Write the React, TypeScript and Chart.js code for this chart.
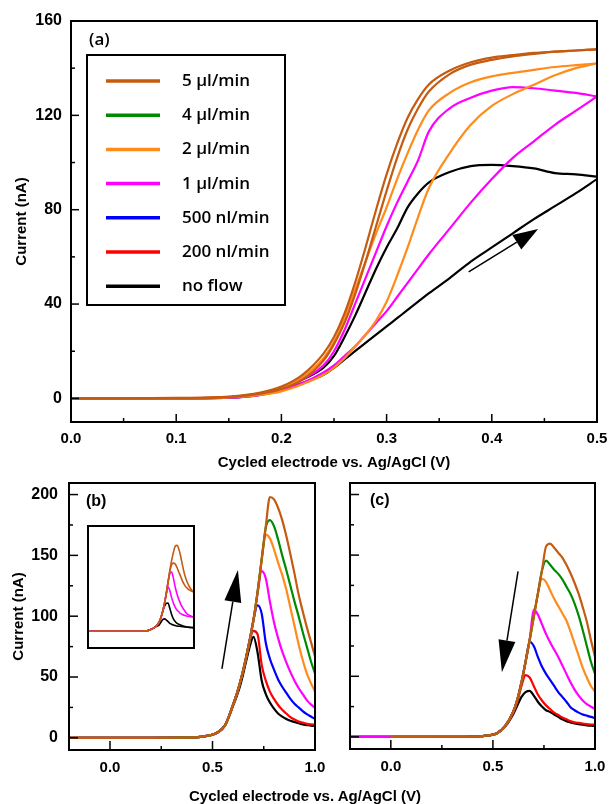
import React, { useEffect, useRef } from "react";
import { Chart, registerables } from "chart.js";
Chart.register(...registerables);

const FONT = "'Liberation Sans', Arial, Helvetica, sans-serif";
const LEG_FONT = "'Open Sans', 'Liberation Sans', sans-serif";

// ---------- series (legend order) ----------
const seriesLabels = ["5 μl/min", "4 μl/min", "2 μl/min", "1 μl/min", "500 nl/min", "200 nl/min", "no flow"];
const seriesColors = ["#c55a11", "#008a00", "#ff8c1a", "#ff00ff", "#0000ff", "#ff0000", "#000000"];

// ---------- panel (a): cyclic voltammograms ----------
const potA = [0, 0.05, 0.1, 0.15, 0.18, 0.2, 0.22, 0.24, 0.25, 0.26, 0.27, 0.28, 0.29, 0.3, 0.31, 0.32, 0.33, 0.34, 0.36, 0.38, 0.4, 0.42, 0.44, 0.46, 0.48, 0.5];
const fwd5 = [0, 0, 0, 0.5, 2, 4, 8, 16, 23, 32, 44, 58, 73, 88, 102, 114, 123, 130, 137.5, 141.5, 143.5, 145, 146, 147, 147.5, 148];
const rev5 = [0, 0, 0.2, 0.8, 2.5, 5, 10, 19, 26, 36, 49, 64, 80, 95, 108, 119, 127, 133, 139, 142.5, 144.5, 145.5, 146.5, 147, 147.5, 148];
const fwd2 = [0, 0, 0, 0.4, 1.5, 3, 6, 10, 13, 17, 22, 27, 33, 41, 52, 64, 77, 89, 104, 116, 124, 129, 133, 137, 140, 142];
const rev2 = [0, 0, 0.1, 0.6, 2, 4, 9, 17, 24, 34, 46, 58, 70, 81, 93, 104, 114, 122, 129.5, 134, 136.5, 138, 139.3, 140.5, 141.3, 142];
const fwd1 = [0, 0, 0, 0.3, 1.5, 3.5, 6.5, 11, 14, 18, 22, 27, 32, 37, 43, 49, 55, 61, 72, 83, 93, 102, 109, 116, 122, 128];
const rev1 = [0, 0, 0.1, 0.5, 2, 4, 8, 14, 20, 29, 40, 51, 62, 73, 83, 92, 101, 113, 123, 127.5, 130.5, 132, 131.5, 130.5, 129.5, 128];
const fwd0 = [0, 0, 0, 0.3, 1.5, 3.5, 6.5, 10, 13, 16.5, 20, 23.5, 27, 30.5, 34, 37.5, 41, 44.5, 51, 58, 64, 70, 76, 81.5, 87, 93];
const rev0 = [0, 0, 0.1, 0.5, 2, 4, 8, 13, 18, 26, 35, 45, 55, 64, 72, 81, 87, 91.5, 96, 98.5, 99, 98.5, 97.5, 95.5, 95, 94];

const xTicksA = [0, 0.1, 0.2, 0.3, 0.4, 0.5];
const xMinorA = [0.05, 0.15, 0.25, 0.35, 0.45];
const yTicksA = [0, 40, 80, 120, 160];
const yMinorA = [20, 60, 100, 140];
const arrowA = [[0.378, 53.6], [0.444, 71.8]];

// ---------- panels (b) and (c): linear sweeps ----------
const potBC = [-0.2, 0, 0.2, 0.4, 0.44, 0.48, 0.52, 0.56, 0.6, 0.62, 0.64, 0.66, 0.68, 0.7, 0.72, 0.74, 0.76, 0.78, 0.8, 0.82, 0.84, 0.86, 0.88, 0.9, 0.92, 0.94, 0.96, 0.98, 1.0];

const b5 = [0, 0, 0, 0.3, 0.8, 1.8, 4, 10, 27, 37, 49, 63, 79, 97, 120, 147, 174, 198, 196, 189, 179, 166, 151, 135, 118, 104, 91, 79, 67];
const b4 = [0, 0, 0, 0.3, 0.8, 1.8, 4, 10, 27, 37, 49, 63, 79, 97, 120, 147, 173, 179, 174, 163, 150, 138, 125, 112, 100, 87, 75, 63, 53];
const b2 = [0, 0, 0, 0.3, 0.8, 1.8, 4, 10, 27, 37, 49, 63, 79, 97, 120, 146, 167, 164, 155, 144, 134, 122, 107, 92, 77, 64, 53, 45, 38];
const b1 = [0, 0, 0, 0.3, 0.8, 1.8, 4, 10, 27, 37, 49, 63, 79, 97, 119, 137, 131, 112, 95, 82, 71, 62, 54, 47, 41, 36, 31, 27.5, 24.6];
const b05 = [0, 0, 0, 0.3, 0.8, 1.8, 4, 10, 27, 37, 49, 63, 79, 97, 109, 102, 78, 65, 56, 48, 42, 37, 32, 28, 25, 22, 19.5, 17.5, 15.6];
const b02 = [0, 0, 0, 0.3, 0.8, 1.8, 4, 10, 27, 37, 49, 63, 79, 88, 85, 60, 47, 38, 32, 27, 23, 20, 17, 15, 13.5, 12.5, 11.5, 11, 10.7];
const b0 = [0, 0, 0, 0.3, 0.8, 1.8, 4, 10, 26, 35, 46, 60, 74, 83, 70, 47, 36, 29, 24, 20, 17.5, 15.5, 14, 13, 12, 11, 10.5, 10, 9.8];

const c5 = [null, 0, 0, 0.3, 0.6, 1.2, 3, 9, 21, 31, 45, 62, 80, 99, 118, 137, 157, 159.5, 156, 152, 148, 142, 135, 127, 118, 107, 95, 80, 66];
const c4 = [null, 0, 0, 0.3, 0.6, 1.2, 3, 9, 21, 31, 45, 62, 80, 99, 118, 137, 145.5, 142, 138, 134.5, 130, 124, 118, 110, 100, 88, 75, 62, 52];
const c2 = [null, 0, 0, 0.3, 0.6, 1.2, 3, 9, 21, 31, 45, 62, 80, 99, 118, 130.5, 128, 121, 114, 108, 102, 96, 87, 77, 67, 57, 49, 42, 37.5];
const c1 = [0, 0, 0, 0.3, 0.6, 1.2, 3, 9, 21, 31, 45, 62, 80, 105, 101, 93, 85, 78, 72, 66, 59, 52, 45, 39, 34, 30, 27, 25, 23];
const c05 = [0, 0, 0, 0.3, 0.6, 1.2, 3, 9, 21, 31, 45, 62, 78.5, 75, 66, 58, 52, 47, 42, 37, 33, 29, 24.5, 22, 20, 18.5, 17.5, 16.5, 15.4];
const c02 = [0, 0, 0, 0.3, 0.6, 1.2, 3, 9, 20, 29, 42, 51, 49, 42, 35, 30, 26, 23, 20, 18, 16, 14.5, 13, 12, 11.5, 11, 10.5, 10.2, 10];
const c0 = [0, 0, 0, 0.3, 0.6, 1.2, 3, 8.5, 19, 26, 33, 37, 38, 34, 29, 25, 22, 20.5, 18.5, 16.5, 14.5, 13, 12, 11, 10.5, 10, 9.5, 9.2, 9];

// inset of (b)
const inBrownA = [0, 0, 0, 0, 0.3, 1, 2.5, 5, 10, 15, 22, 31, 42, 55, 68, 80, 89, 96, 97, 93, 85, 75, 66, 59, 54, 50, 47, 45, 44];
const inBrownB = [0, 0, 0, 0, 0.3, 1, 2.5, 5, 10, 15, 22, 31, 42, 55, 68, 75, 77, 76, 72, 67, 62, 57, 53, 50, 48, 46.5, 45.5, 44.5, 44];
const inMagA = [0, 0, 0, 0, 0.3, 1, 2.5, 5, 10, 15, 22, 31, 42, 55, 65, 67, 60, 50, 42, 36, 31, 27, 24, 21, 19, 18, 17, 16.5, 16];
const inMagB = [0, 0, 0, 0, 0.3, 1, 2.5, 5, 10, 15, 22, 31, 42, 50, 46, 38, 32, 27, 24, 22, 20, 19, 18, 17.5, 17, 16.7, 16.4, 16.2, 16];
const inBlackA = [0, 0, 0, 0, 0.3, 1, 2.5, 5, 10, 15, 22, 28, 31.5, 32, 26, 19, 14, 11, 9, 8, 7, 6.3, 5.7, 5.2, 4.8, 4.4, 4.2, 4.1, 4];
const inBlackB = [0, 0, 0, 0, 0.3, 1, 2.5, 5, 7, 10, 13, 14, 13, 11, 9, 8, 7, 6.5, 6, 5.7, 5.5, 5.2, 5, 4.8, 4.6, 4.4, 4.2, 4.1, 4];

const xTicksBC = [0, 0.5, 1.0];
const xMinorBC = [0.25, 0.75];
const yTicksBC = [0, 50, 100, 150, 200];
const yMinorBC = [25, 75, 125, 175];
const arrowB = [[0.546, 56.6], [0.624, 138]];
const arrowC = [[0.623, 136.5], [0.544, 53.3]];

// ---------- helpers ----------
const pts = (xs: number[], ys: (number | null)[]) => xs.map((x, i) => ({ x, y: ys[i] }));

const fixSize = (w?: number, h?: number) => (s: any) => {
  if (w !== undefined) s.width = w;
  if (h !== undefined) s.height = h;
  s.paddingTop = 0; s.paddingBottom = 0; s.paddingLeft = 0; s.paddingRight = 0;
};

const xTickFont = { family: FONT, size: 15, weight: "bold" as const };
const yTickFont = { family: FONT, size: 16, weight: "bold" as const };
const titleFont = { family: FONT, size: 15, weight: "bold" as const };

const decor = {
  id: "decor",
  afterDatasetsDraw(chart: any, _a: any, o: any) {
    const { ctx, chartArea: a } = chart;
    const xs = chart.scales.x, ys = chart.scales.y;
    ctx.save();
    ctx.strokeStyle = "#000";
    ctx.fillStyle = "#000";
    const seg = (x1: number, y1: number, x2: number, y2: number) => {
      ctx.beginPath(); ctx.moveTo(x1, y1); ctx.lineTo(x2, y2); ctx.stroke();
    };
    if (o.frame) {
      ctx.lineWidth = 2;
      ctx.strokeRect(1, 1, chart.width - 2, chart.height - 2);
    }
    if (o.box) {
      ctx.lineWidth = 2;
      ctx.strokeRect(a.left, a.top, a.right - a.left, a.bottom - a.top);
    }
    if (o.ticks) {
      const t = o.ticks;
      ctx.lineWidth = 1.5;
      t.xMajor.forEach((v: number) => { const p = xs.getPixelForValue(v); seg(p, a.bottom, p, a.bottom - t.major); });
      t.xMinor.forEach((v: number) => { const p = xs.getPixelForValue(v); seg(p, a.bottom, p, a.bottom - t.minor); });
      t.yMajor.forEach((v: number) => { const p = ys.getPixelForValue(v); seg(a.left, p, a.left + t.major, p); });
      t.yMinor.forEach((v: number) => { const p = ys.getPixelForValue(v); seg(a.left, p, a.left + t.minor, p); });
    }
    if (o.arrow) {
      const [[fx, fy], [tx, ty]] = o.arrow.pts;
      const x1 = xs.getPixelForValue(fx), y1 = ys.getPixelForValue(fy);
      const x2 = xs.getPixelForValue(tx), y2 = ys.getPixelForValue(ty);
      const ang = Math.atan2(y2 - y1, x2 - x1);
      const L = o.arrow.len, W = o.arrow.wid;
      const bx = x2 - L * Math.cos(ang), by = y2 - L * Math.sin(ang);
      ctx.lineWidth = 1.5;
      seg(x1, y1, bx, by);
      ctx.beginPath();
      ctx.moveTo(x2, y2);
      ctx.lineTo(bx + (W / 2) * Math.sin(ang), by - (W / 2) * Math.cos(ang));
      ctx.lineTo(bx - (W / 2) * Math.sin(ang), by + (W / 2) * Math.cos(ang));
      ctx.closePath();
      ctx.fill();
    }
    if (o.letter) {
      ctx.font = o.letter.font;
      ctx.textBaseline = "middle";
      ctx.textAlign = "left";
      ctx.fillText(o.letter.text, a.left + o.letter.dx, a.top + o.letter.dy);
    }
    if (o.legend) {
      const L = o.legend;
      const bx = a.left + L.dx, by = a.top + L.dy;
      ctx.lineWidth = 2;
      ctx.strokeRect(bx, by, L.w, L.h);
      ctx.font = L.font;
      ctx.textBaseline = "alphabetic";
      ctx.textAlign = "left";
      seriesLabels.forEach((lab, i) => {
        const y = by + L.first + i * L.step;
        ctx.strokeStyle = seriesColors[i];
        ctx.lineWidth = 3.5;
        seg(bx + 19, y, bx + 73, y);
        ctx.fillStyle = "#000";
        ctx.fillText(lab, bx + 95, y + 5);
      });
    }
    ctx.restore();
  },
};

function ChartBox({ left, top, width, height, make }: any) {
  const ref = useRef<HTMLCanvasElement>(null);
  useEffect(() => {
    const chart = new Chart(ref.current as HTMLCanvasElement, make());
    return () => chart.destroy();
  }, []);
  return (
    <canvas
      ref={ref}
      width={width}
      height={height}
      style={{ position: "absolute", left, top, width, height, display: "block" }}
    />
  );
}

const lineDs = (data: any[], color: string, width: number) => ({
  data,
  borderColor: color,
  backgroundColor: color,
  borderWidth: width,
  pointRadius: 0,
  fill: false,
  cubicInterpolationMode: "monotone" as const,
  spanGaps: false,
});

const baseOptions = (padding: any) => ({
  responsive: false,
  animation: false as const,
  devicePixelRatio: 1,
  layout: { padding },
  events: [] as any[],
});

// ---------- panel (a) ----------
const makeA = () => {
  const groups = [
    [fwd5, rev5, 0],
    [fwd2, rev2, 2],
    [fwd1, rev1, 3],
    [fwd0, rev0, 6],
  ] as [number[], number[], number][];
  const datasets: any[] = [];
  groups.forEach(([f, r, ci]) => {
    datasets.push(lineDs(pts(potA, f), seriesColors[ci], 2.2));
    datasets.push(lineDs(pts(potA, r), seriesColors[ci], 2.2));
  });
  return {
    type: "line" as const,
    data: { datasets },
    plugins: [decor],
    options: {
      ...baseOptions({ top: 21, right: 13, left: 0, bottom: 0 }),
      scales: {
        x: {
          type: "linear", min: 0, max: 0.5,
          grid: { display: false, drawTicks: false }, border: { display: false },
          afterBuildTicks: (s: any) => { s.ticks = xTicksA.map((v) => ({ value: v })); },
          ticks: { font: xTickFont, color: "#000", padding: 8, autoSkip: false, maxRotation: 0, callback: (v: any) => Number(v).toFixed(1) },
          title: { display: true, text: "Cycled electrode vs. Ag/AgCl (V)", font: titleFont, color: "#000", padding: { top: 0, bottom: 8 } },
          afterFit: fixSize(undefined, 58),
        },
        y: {
          type: "linear", min: -10, max: 160,
          grid: { display: false, drawTicks: false }, border: { display: false },
          afterBuildTicks: (s: any) => { s.ticks = yTicksA.map((v) => ({ value: v })); },
          ticks: { font: yTickFont, color: "#000", padding: 9, autoSkip: false },
          title: { display: true, text: "Current (nA)", font: titleFont, color: "#000", padding: { top: 13, bottom: 0 } },
          afterFit: fixSize(71, undefined),
        },
      },
      plugins: {
        legend: { display: false }, tooltip: { enabled: false },
        decor: {
          box: true,
          ticks: { xMajor: xTicksA, xMinor: xMinorA, yMajor: yTicksA, yMinor: yMinorA, major: 8, minor: 4 },
          arrow: { pts: arrowA, len: 25, wid: 17 },
          letter: { text: "(a)", font: `600 17px ${LEG_FONT}`, dx: 18, dy: 19 },
          legend: { dx: 16, dy: 34, w: 198, h: 250, first: 26, step: 34.2, font: `600 17px ${LEG_FONT}` },
        },
      },
    },
  };
};

// ---------- panels (b), (c) ----------
const makeBC = (series: (number | null)[][], showY: boolean, yWidth: number, xHeight: number, padding: any, letter: any, arrow: any) => {
  const datasets = series.map((s, i) => lineDs(pts(potBC, s), seriesColors[i], 2.2));
  return {
    type: "line" as const,
    data: { datasets },
    plugins: [decor],
    options: {
      ...baseOptions(padding),
      scales: {
        x: {
          type: "linear", min: -0.2, max: 1.0,
          grid: { display: false, drawTicks: false }, border: { display: false },
          afterBuildTicks: (s: any) => { s.ticks = xTicksBC.map((v) => ({ value: v })); },
          ticks: { font: xTickFont, color: "#000", padding: 9, autoSkip: false, maxRotation: 0, callback: (v: any) => Number(v).toFixed(1) },
          afterFit: fixSize(undefined, xHeight),
        },
        y: {
          type: "linear", min: -10, max: 209.5,
          grid: { display: false, drawTicks: false }, border: { display: false },
          afterBuildTicks: (s: any) => { s.ticks = yTicksBC.map((v) => ({ value: v })); },
          ticks: { display: showY, font: yTickFont, color: "#000", padding: 11, autoSkip: false },
          title: { display: showY, text: "Current (nA)", font: titleFont, color: "#000", padding: { top: 10, bottom: 0 } },
          afterFit: fixSize(yWidth, undefined),
        },
      },
      plugins: {
        legend: { display: false }, tooltip: { enabled: false },
        decor: {
          box: true,
          ticks: { xMajor: xTicksBC, xMinor: xMinorBC, yMajor: yTicksBC, yMinor: yMinorBC, major: 9, minor: 4 },
          arrow: { pts: arrow, len: 32, wid: 17 },
          letter,
        },
      },
    },
  };
};

const makeB = () =>
  makeBC([b5, b4, b2, b1, b05, b02, b0], true, 69, 54, { top: 13, right: 15, left: 0, bottom: 0 },
    { text: "(b)", font: `bold 16px ${FONT}`, dx: 17, dy: 19 }, arrowB);

const makeC = () =>
  makeBC([c5, c4, c2, c1, c05, c02, c0], false, 20, 55, { top: 13, right: 15, left: 0, bottom: 0 },
    { text: "(c)", font: `bold 16px ${FONT}`, dx: 20, dy: 18 }, arrowC);

const makeInset = () => {
  const series: [number[], number][] = [
    [inBrownA, 0], [inBrownB, 0], [inMagA, 3], [inMagB, 3], [inBlackA, 6], [inBlackB, 6],
  ];
  return {
    type: "line" as const,
    data: { datasets: series.map(([s, ci]) => lineDs(pts(potBC, s), seriesColors[ci], 1.6)) },
    plugins: [decor],
    options: {
      ...baseOptions(0),
      scales: {
        x: { type: "linear", min: -0.2, max: 1.0, display: false },
        y: { type: "linear", min: -20, max: 120, display: false },
      },
      plugins: { legend: { display: false }, tooltip: { enabled: false }, decor: { frame: true } },
    },
  };
};

export default function App() {
  return (
    <div style={{ position: "absolute", left: 0, top: 0, width: 610, height: 804, background: "#fff", overflow: "hidden" }}>
      <ChartBox left={0} top={0} width={610} height={480} make={makeA} />
      <ChartBox left={0} top={470} width={330} height={334} make={makeB} />
      <ChartBox left={330} top={470} width={280} height={334} make={makeC} />
      <ChartBox left={87} top={525} width={108} height={124} make={makeInset} />
      <div
        style={{
          position: "absolute", left: 0, top: 787, width: 610, textAlign: "center",
          font: `bold 15px ${FONT}`, lineHeight: "18px", color: "#000", whiteSpace: "nowrap",
        }}
      >
        Cycled electrode vs. Ag/AgCl (V)
      </div>
    </div>
  );
}
